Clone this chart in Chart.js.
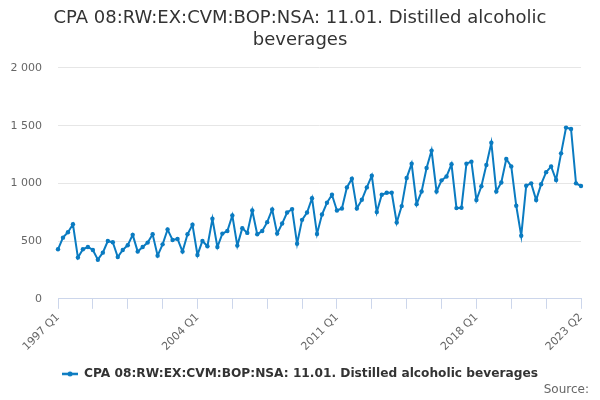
<!DOCTYPE html>
<html>
<head>
<meta charset="utf-8">
<script src="https://cdn.jsdelivr.net/npm/chart.js@4.4.1/dist/chart.umd.min.js"></script>
<style>
  html, body { margin: 0; padding: 0; background: #fff; }
  #wrap { width: 600px; height: 400px; position: relative; }
</style>
</head>
<body>
<div id="wrap"><canvas id="chart"></canvas></div>
<script>
const chartTitle = ['CPA 08:RW:EX:CVM:BOP:NSA: 11.01. Distilled alcoholic', 'beverages'];
const seriesName = 'CPA 08:RW:EX:CVM:BOP:NSA: 11.01. Distilled alcoholic beverages';
const sourceText = 'Source:';

const startYear = 1997;
const quarters = ['Q1', 'Q2', 'Q3', 'Q4'];
const labelIndexes = [0, 28, 56, 84, 105];

// quarterly values, 1997 Q1 .. 2023 Q2
const values = [
  429, 530, 577, 646,
  357, 429, 449, 423,
  339, 400, 501, 490,
  362, 423, 464, 554,
  409, 449, 487, 559,
  374, 472, 600, 510,
  519, 409, 559, 641,
  380, 501, 455, 693,
  449, 565, 588, 722,
  461, 612, 571, 765,
  559, 588, 664, 774,
  565, 652, 748, 777,
  478, 684, 748, 872,
  562, 730, 832, 901,
  765, 783, 965, 1041,
  783, 858, 965, 1067,
  751, 901, 919, 919,
  661, 803, 1046, 1171,
  820, 930, 1133, 1284,
  930, 1026, 1060, 1165,
  786, 789, 1171, 1188,
  856, 975, 1159, 1352,
  930, 1008, 1211, 1147,
  806, 546, 980, 1000,
  856, 993, 1097, 1147,
  1029, 1260, 1483, 1471,
  1000, 977
];

const labels = values.map((v, i) => `${startYear + Math.floor(i / 4)} ${quarters[i % 4]}`);

const lineColor = '#0a7bc1';
const fontFamily = '"DejaVu Sans", Verdana, sans-serif';

function legendSymbol() {
  const c = document.createElement('canvas');
  c.width = 16; c.height = 8;
  const g = c.getContext('2d');
  g.strokeStyle = lineColor;
  g.lineWidth = 2.5;
  g.beginPath(); g.moveTo(0, 4); g.lineTo(16, 4); g.stroke();
  g.fillStyle = lineColor;
  g.beginPath(); g.arc(8, 4, 2.5, 0, Math.PI * 2); g.fill();
  return c;
}

const sourcePlugin = {
  id: 'sourceText',
  afterDraw(chart) {
    const ctx = chart.ctx;
    ctx.save();
    ctx.font = '12px ' + fontFamily;
    ctx.fillStyle = '#666666';
    ctx.textAlign = 'right';
    ctx.textBaseline = 'middle';
    ctx.fillText(sourceText, 589, 390);
    ctx.restore();
  }
};

const ctx = document.getElementById('chart').getContext('2d');
new Chart(ctx, {
  type: 'line',
  data: {
    labels: labels,
    datasets: [{
      label: seriesName,
      data: values,
      borderColor: lineColor,
      backgroundColor: lineColor,
      borderWidth: 2,
      pointRadius: 2.2,
      pointHoverRadius: 3,
      pointBorderWidth: 0,
      tension: 0,
      fill: false,
    }]
  },
  options: {
    responsive: true, maintainAspectRatio: false,
    animation: false,
    layout: { padding: { left: 0, right: 0, top: 0, bottom: 10 } },
    plugins: {
      title: {
        display: true,
        text: chartTitle,
        color: '#333333',
        font: { family: fontFamily, size: 18, weight: 'normal', lineHeight: 1.22 },
        padding: { top: 7, bottom: 17 }
      },
      legend: {
        display: true,
        position: 'bottom',
        labels: {
          color: '#333333',
          font: { family: fontFamily, size: 12.2, weight: 'bold' },
          usePointStyle: true,
          pointStyle: legendSymbol(),
          pointStyleWidth: 16,
          padding: 10
        }
      },
      tooltip: { enabled: false }
    },
    scales: {
      x: {
        offset: false,
        border: { display: true, color: '#ccd6eb', width: 1 },
        grid: {
          drawOnChartArea: false,
          drawTicks: true,
          tickLength: 10,
          color: c => (c.index % 7 === 0 ? '#ccd6eb' : 'rgba(0,0,0,0)'),
          tickColor: c => (c.index % 7 === 0 ? '#ccd6eb' : 'rgba(0,0,0,0)')
        },
        ticks: {
          autoSkip: false,
          maxRotation: 45,
          minRotation: 45,
          padding: 2,
          color: '#666666',
          font: { family: fontFamily, size: 11 },
          callback: function(value, index) {
            return labelIndexes.includes(index) ? this.getLabelForValue(value) : '';
          }
        },
        afterFit: scale => { scale.height += 2.3; }
      },
      y: {
        min: 0,
        max: 2000,
        border: { display: false },
        grid: { color: '#e6e6e6', drawTicks: false, lineWidth: 1 },
        ticks: {
          stepSize: 500,
          padding: 16,
          color: '#666666',
          font: { family: fontFamily, size: 11 },
          callback: v => String(v).replace(/\B(?=(\d{3})+(?!\d))/g, ' ')
        },
        afterFit: scale => { scale.width = 58; }
      },
      // empty spacer on the right so title and legend stay centred on the page
      spacer: {
        type: 'linear',
        position: 'right',
        display: true,
        grid: { display: false, drawTicks: false },
        border: { display: false },
        ticks: { display: false },
        afterFit: scale => { scale.width = 19; }
      }
    }
  },
  plugins: [sourcePlugin]
});
</script>
</body>
</html>
